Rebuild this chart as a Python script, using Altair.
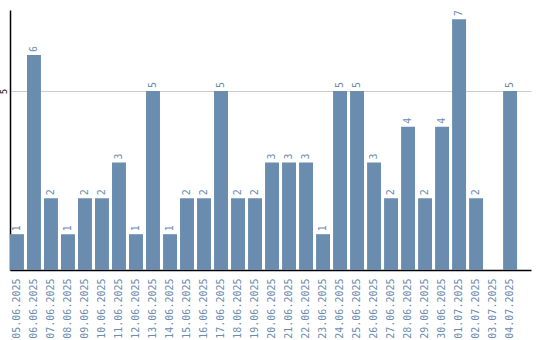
import altair as alt
import pandas as pd

dates = ["05.06.2025", "06.06.2025", "07.06.2025", "08.06.2025", "09.06.2025",
         "10.06.2025", "11.06.2025", "12.06.2025", "13.06.2025", "14.06.2025",
         "15.06.2025", "16.06.2025", "17.06.2025", "18.06.2025", "19.06.2025",
         "20.06.2025", "21.06.2025", "22.06.2025", "23.06.2025", "24.06.2025",
         "25.06.2025", "26.06.2025", "27.06.2025", "28.06.2025", "29.06.2025",
         "30.06.2025", "01.07.2025", "02.07.2025", "03.07.2025", "04.07.2025"]
counts = [1, 6, 2, 1, 2, 2, 3, 1, 5, 1, 2, 2, 5, 2, 2, 3, 3, 3, 1, 5,
          5, 3, 2, 4, 2, 4, 7, 2, 0, 5]

df = pd.DataFrame({"date": dates, "count": counts})

BAR = "#6a8caf"
TXT = "#6a8caf"

x = alt.X("date:N", sort=dates, title=None,
          scale=alt.Scale(paddingInner=0.18, paddingOuter=0.41, align=0),
          axis=alt.Axis(labelAngle=-90, labelFont="DejaVu Sans Mono", labelFontSize=10,
                        labelColor=TXT, domainColor="black", domainWidth=1.5,
                        ticks=False, labelPadding=8))
y = alt.Y("count:Q", title=None,
          scale=alt.Scale(domain=[0, 7.26], nice=False, zero=True),
          axis=alt.Axis(values=[5], labelAngle=-90, labelFontSize=8, labelColor="black",
                        labelFont="DejaVu Sans", ticks=False, labelPadding=2,
                        domainColor="black", domainWidth=1.5,
                        gridColor="#cccccc", gridWidth=1))

bars = alt.Chart(df).mark_bar(color=BAR).encode(x=x, y=y)
labels = alt.Chart(df).transform_filter("datum.count > 0").mark_text(
    angle=270, align="left", baseline="middle", dx=3, fontSize=10,
    font="DejaVu Sans Mono", color=TXT
).encode(x=alt.X("date:N", sort=dates), y="count:Q", text="count:Q")

chart = (bars + labels).properties(
    width=521, height=260,
    autosize=alt.AutoSizeParams(type="none"),
    padding={"left": 10, "top": 10, "right": 9, "bottom": 70},
).configure_view(stroke=None).configure_axisX(grid=False)

chart.save("out.html", embed_options={"renderer": "svg", "actions": False})
